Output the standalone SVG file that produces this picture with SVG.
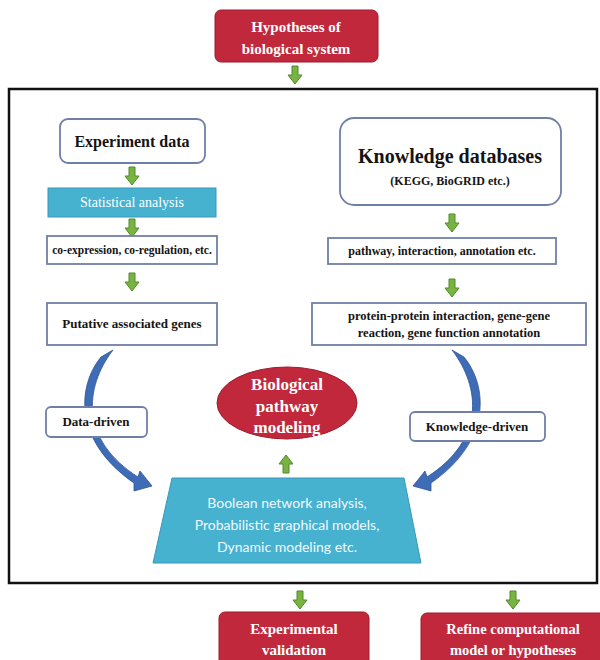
<svg xmlns="http://www.w3.org/2000/svg" width="600" height="660" viewBox="0 0 600 660">
<style>
.red{fill:#C1283B;stroke:#9E1C2C;stroke-width:1}
.wbox{fill:#FFFFFF;stroke:#6F7FA6;stroke-width:1.8}
.teal{fill:#47B1D0;stroke:#3A98B8;stroke-width:1}
text.t{font-family:'Liberation Serif','DejaVu Serif',serif;font-weight:bold;fill:#141414;text-anchor:middle}
text.tw{font-family:'Liberation Serif','DejaVu Serif',serif;fill:#FFFFFF;text-anchor:middle}
text.ts{font-family:Lato,'Open Sans',sans-serif;fill:#F2FAFD;text-anchor:middle}
.ga{fill:#79B443;stroke:#4E8A2A;stroke-width:1}
.ba{fill:#3F6CB6;stroke:#2E5597;stroke-width:0.8}
</style>
<defs>
<path id="ga" d="M -3 0 H 3 V 9 H 7 L 0 18 L -7 9 H -3 Z"/>
<path id="ba" d="M 101 357 C 78 385, 72 440, 134 483 L 134 491 L 152 486 L 140 471 L 138 477 C 80 440, 84 388, 113 350 Z"/>
</defs>
<rect width="600" height="660" fill="#FFFFFF"/>
<rect x="9" y="89" width="588" height="494" fill="none" stroke="#111111" stroke-width="2.5"/>

<g id="connectors">
<use href="#ga" class="ga" transform="translate(295,66)"/>
<use href="#ga" class="ga" transform="translate(132,167)"/>
<use href="#ga" class="ga" transform="translate(132,219)"/>
<use href="#ga" class="ga" transform="translate(132,273)"/>
<use href="#ga" class="ga" transform="translate(452,214)"/>
<use href="#ga" class="ga" transform="translate(452,279)"/>
<use href="#ga" class="ga" transform="translate(286,473) scale(1,-1)"/>
<use href="#ga" class="ga" transform="translate(300,591)"/>
<use href="#ga" class="ga" transform="translate(513,591)"/>
<use href="#ba" class="ba"/>
<use href="#ba" class="ba" transform="translate(565,0) scale(-1,1)"/>
</g>

<g id="hypotheses">
<rect class="red" x="215" y="10" width="163" height="52" rx="6"/>
<text class="tw" x="296" y="32" font-size="15" font-weight="bold">Hypotheses of</text>
<text class="tw" x="296" y="54" font-size="15" font-weight="bold">biological system</text>
</g>

<g id="experiment-data">
<rect class="wbox" x="60" y="119" width="145" height="44" rx="8"/>
<text class="t" x="132" y="147" font-size="16">Experiment data</text>
</g>

<g id="statistical-analysis">
<rect class="teal" x="48" y="188" width="168" height="29"/>
<text class="tw" x="132" y="207" font-size="14">Statistical analysis</text>
</g>

<g id="co-expression">
<rect class="wbox" x="47" y="236" width="170" height="28"/>
<text class="t" x="132" y="254" font-size="11.5">co-expression, co-regulation, etc.</text>
</g>

<g id="putative-genes">
<rect class="wbox" x="47" y="303" width="170" height="42"/>
<text class="t" x="132" y="328" font-size="13">Putative associated genes</text>
</g>

<g id="knowledge-databases">
<rect class="wbox" x="340" y="118" width="221" height="87" rx="14"/>
<text class="t" x="450" y="163" font-size="20">Knowledge databases</text>
<text class="t" x="450" y="185" font-size="12">(KEGG, BioGRID etc.)</text>
</g>

<g id="pathway-interaction">
<rect class="wbox" x="328" y="238" width="228" height="26"/>
<text class="t" x="442" y="255" font-size="12">pathway, interaction, annotation etc.</text>
</g>

<g id="protein-interaction">
<rect class="wbox" x="312" y="303" width="274" height="42"/>
<text class="t" x="449" y="320" font-size="12.5">protein-protein interaction, gene-gene</text>
<text class="t" x="449" y="337" font-size="12.5">reaction, gene function annotation</text>
</g>

<g id="data-driven">
<rect class="wbox" x="46" y="407" width="101" height="30" rx="5"/>
<text class="t" x="96" y="426" font-size="13">Data-driven</text>
</g>

<g id="knowledge-driven">
<rect class="wbox" x="410" y="412" width="135" height="29" rx="5"/>
<text class="t" x="477" y="431" font-size="13">Knowledge-driven</text>
</g>

<g id="pathway-modeling">
<ellipse class="red" cx="287" cy="403" rx="70" ry="36"/>
<text class="tw" x="287" y="390" font-size="17" font-weight="bold" fill="#F7E9EB">Biological</text>
<text class="tw" x="287" y="412" font-size="17" font-weight="bold" fill="#F7E9EB">pathway</text>
<text class="tw" x="287" y="433" font-size="17" font-weight="bold" fill="#F7E9EB">modeling</text>
</g>

<g id="modeling-methods">
<polygon class="teal" points="172,478 404,478 421,563 153,563"/>
<text class="ts" x="287" y="508" font-size="14">Boolean network analysis,</text>
<text class="ts" x="287" y="530" font-size="14">Probabilistic graphical models,</text>
<text class="ts" x="287" y="552" font-size="14">Dynamic modeling etc.</text>
</g>

<g id="experimental-validation">
<rect class="red" x="219" y="612" width="150" height="56" rx="6"/>
<text class="tw" x="294" y="634" font-size="15" font-weight="bold">Experimental</text>
<text class="tw" x="294" y="655" font-size="15" font-weight="bold">validation</text>
</g>

<g id="refine-model">
<rect class="red" x="421" y="613" width="185" height="56" rx="6"/>
<text class="tw" x="513" y="634" font-size="14.5" font-weight="bold">Refine computational</text>
<text class="tw" x="513" y="655" font-size="14.5" font-weight="bold">model or hypotheses</text>
</g>
</svg>
